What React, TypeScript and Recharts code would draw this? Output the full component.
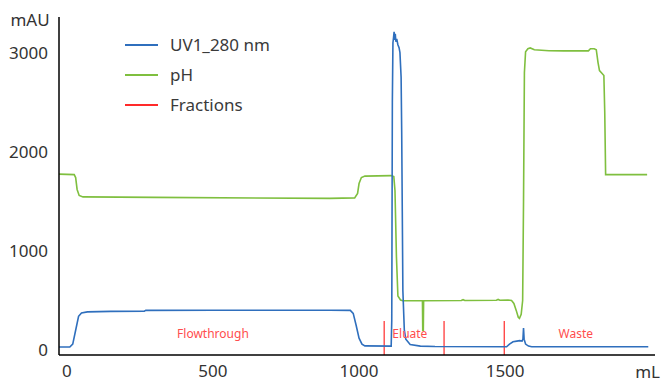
import React from 'react';
import { ComposedChart, Line, XAxis, YAxis, ReferenceLine, ReferenceDot, Label } from 'recharts';

// UV1_280 nm trace: [mL, mAU]
const uvTrace: [number, number][] = [
  [-27, 30], [10, 30], [20, 60], [30, 200], [40, 340], [50, 375], [70, 385], [150, 390], [265, 392], [270, 400],
  [500, 402], [900, 402], [970, 400], [980, 370], [990, 250], [1000, 120], [1010, 60], [1020, 42], [1110, 40],
  [1112, 300], [1114, 2500], [1116, 3100], [1118, 3150], [1120, 3210], [1122, 3130], [1124, 3190], [1126, 3110],
  [1129, 3140], [1133, 3080], [1137, 3050], [1140, 3000], [1144, 2750], [1146, 2200], [1148, 1400], [1150, 600],
  [1155, 200], [1160, 110], [1175, 55], [1210, 40], [1260, 36], [1505, 33], [1515, 60], [1527, 84], [1540, 90],
  [1550, 95], [1558, 90], [1561, 110], [1563, 222], [1565, 110], [1570, 60], [1580, 40], [1591, 33], [1990, 33],
];

// pH trace: [mL, scaled value]
const phTrace: [number, number][] = [
  [-27, 1775], [25, 1770], [30, 1740], [35, 1620], [42, 1560], [55, 1545], [300, 1540], [900, 1530], [985, 1535],
  [995, 1580], [1000, 1680], [1008, 1740], [1020, 1755], [1110, 1760], [1119, 1750], [1123, 1610], [1128, 940],
  [1133, 545], [1142, 505], [1150, 498], [1217, 498], [1218, 200], [1220, 200], [1221, 498], [1350, 500],
  [1356, 508], [1362, 500], [1470, 502], [1476, 510], [1482, 503], [1510, 505], [1522, 500], [1530, 470],
  [1538, 400], [1545, 330], [1549, 320], [1555, 360], [1560, 500], [1563, 1500], [1566, 2800], [1570, 3010],
  [1578, 3040], [1586, 3048], [1600, 3030], [1650, 3020], [1700, 3018], [1785, 3018], [1792, 3040], [1805, 3040],
  [1812, 3030], [1818, 2900], [1823, 2820], [1832, 2790], [1838, 2770], [1841, 2400], [1844, 1770], [1986, 1770],
];

const fractionMarks = [1086, 1291, 1497];
const fractionTop = 293;
const fractionLabels = [
  { name: 'Flowthrough', ml: 500 },
  { name: 'Eluate', ml: 1174 },
  { name: 'Waste', ml: 1742 },
];
const fractionLabelLevel = 160;

const xTicks = [0, 500, 1000, 1500];
const yTicks = [0, 1000, 2000, 3000];
const xDomain: [number, number] = [-27, 2013];
const yDomain: [number, number] = [-50, 3360];

const legendItems = [
  { name: 'UV1_280 nm', color: '#2f6fbd' },
  { name: 'pH', color: '#7fbf3f' },
  { name: 'Fractions', color: '#ff2a2a' },
];

const uvData = uvTrace.map(([x, y]) => ({ x, y }));
const phData = phTrace.map(([x, y]) => ({ x, y }));

const FONT = '"Noto Sans", sans-serif';

export default function App() {
  return (
    <div style={{ position: 'absolute', left: 0, top: 0, width: 661, height: 379, background: '#fff' }}>
      <ComposedChart width={661} height={379} margin={{ top: 17, right: 6, bottom: 0, left: 0 }}>
        <XAxis
          type="number"
          dataKey="x"
          domain={xDomain}
          ticks={xTicks}
          allowDataOverflow
          height={24}
          tickLine={false}
          axisLine={{ stroke: '#000', strokeWidth: 1.5 }}
          tick={{ fill: '#333', fontSize: 17, fontFamily: FONT }}
          tickMargin={4}
        >
          <Label
            content={() => (
              <text x={660} y={378} textAnchor="end" fill="#333" fontSize={17} fontFamily={FONT}>
                mL
              </text>
            )}
          />
        </XAxis>
        <YAxis
          type="number"
          domain={yDomain}
          ticks={yTicks}
          allowDataOverflow
          width={59}
          tickLine={false}
          axisLine={{ stroke: '#000', strokeWidth: 1.5 }}
          tick={{ fill: '#333', fontSize: 17, fontFamily: FONT }}
          tickMargin={5}
        >
          <Label
            content={() => (
              <text x={30} y={26} textAnchor="middle" fill="#333" fontSize={17} fontFamily={FONT}>
                mAU
              </text>
            )}
          />
        </YAxis>
        {fractionMarks.map((m) => (
          <ReferenceLine
            key={m}
            segment={[{ x: m, y: yDomain[0] }, { x: m, y: fractionTop }]}
            stroke="#ff2a2a"
            strokeWidth={1.2}
          />
        ))}
        {fractionLabels.map((f) => (
          <ReferenceDot
            key={f.name}
            x={f.ml}
            y={fractionLabelLevel}
            r={1}
            fill="none"
            stroke="none"
            label={{ value: f.name, position: 'center', fill: '#ff4d4d', fontSize: 12, fontFamily: FONT }}
          />
        ))}
        <Line
          data={phData}
          dataKey="y"
          type="linear"
          stroke="#7fbf3f"
          strokeWidth={1.6}
          dot={false}
          isAnimationActive={false}
        />
        <Line
          data={uvData}
          dataKey="y"
          type="linear"
          stroke="#2f6fbd"
          strokeWidth={1.6}
          dot={false}
          isAnimationActive={false}
        />
      </ComposedChart>
      <div
        style={{
          position: 'absolute',
          left: 125,
          top: 30,
          fontFamily: FONT,
          fontSize: 17,
          color: '#3a3a3a',
          lineHeight: '30px',
        }}
      >
        {legendItems.map((it) => (
          <div key={it.name} style={{ display: 'flex', alignItems: 'center', height: 30 }}>
            <div style={{ width: 33, height: 1.5, background: it.color, marginRight: 12 }} />
            <span>{it.name}</span>
          </div>
        ))}
      </div>
    </div>
  );
}
